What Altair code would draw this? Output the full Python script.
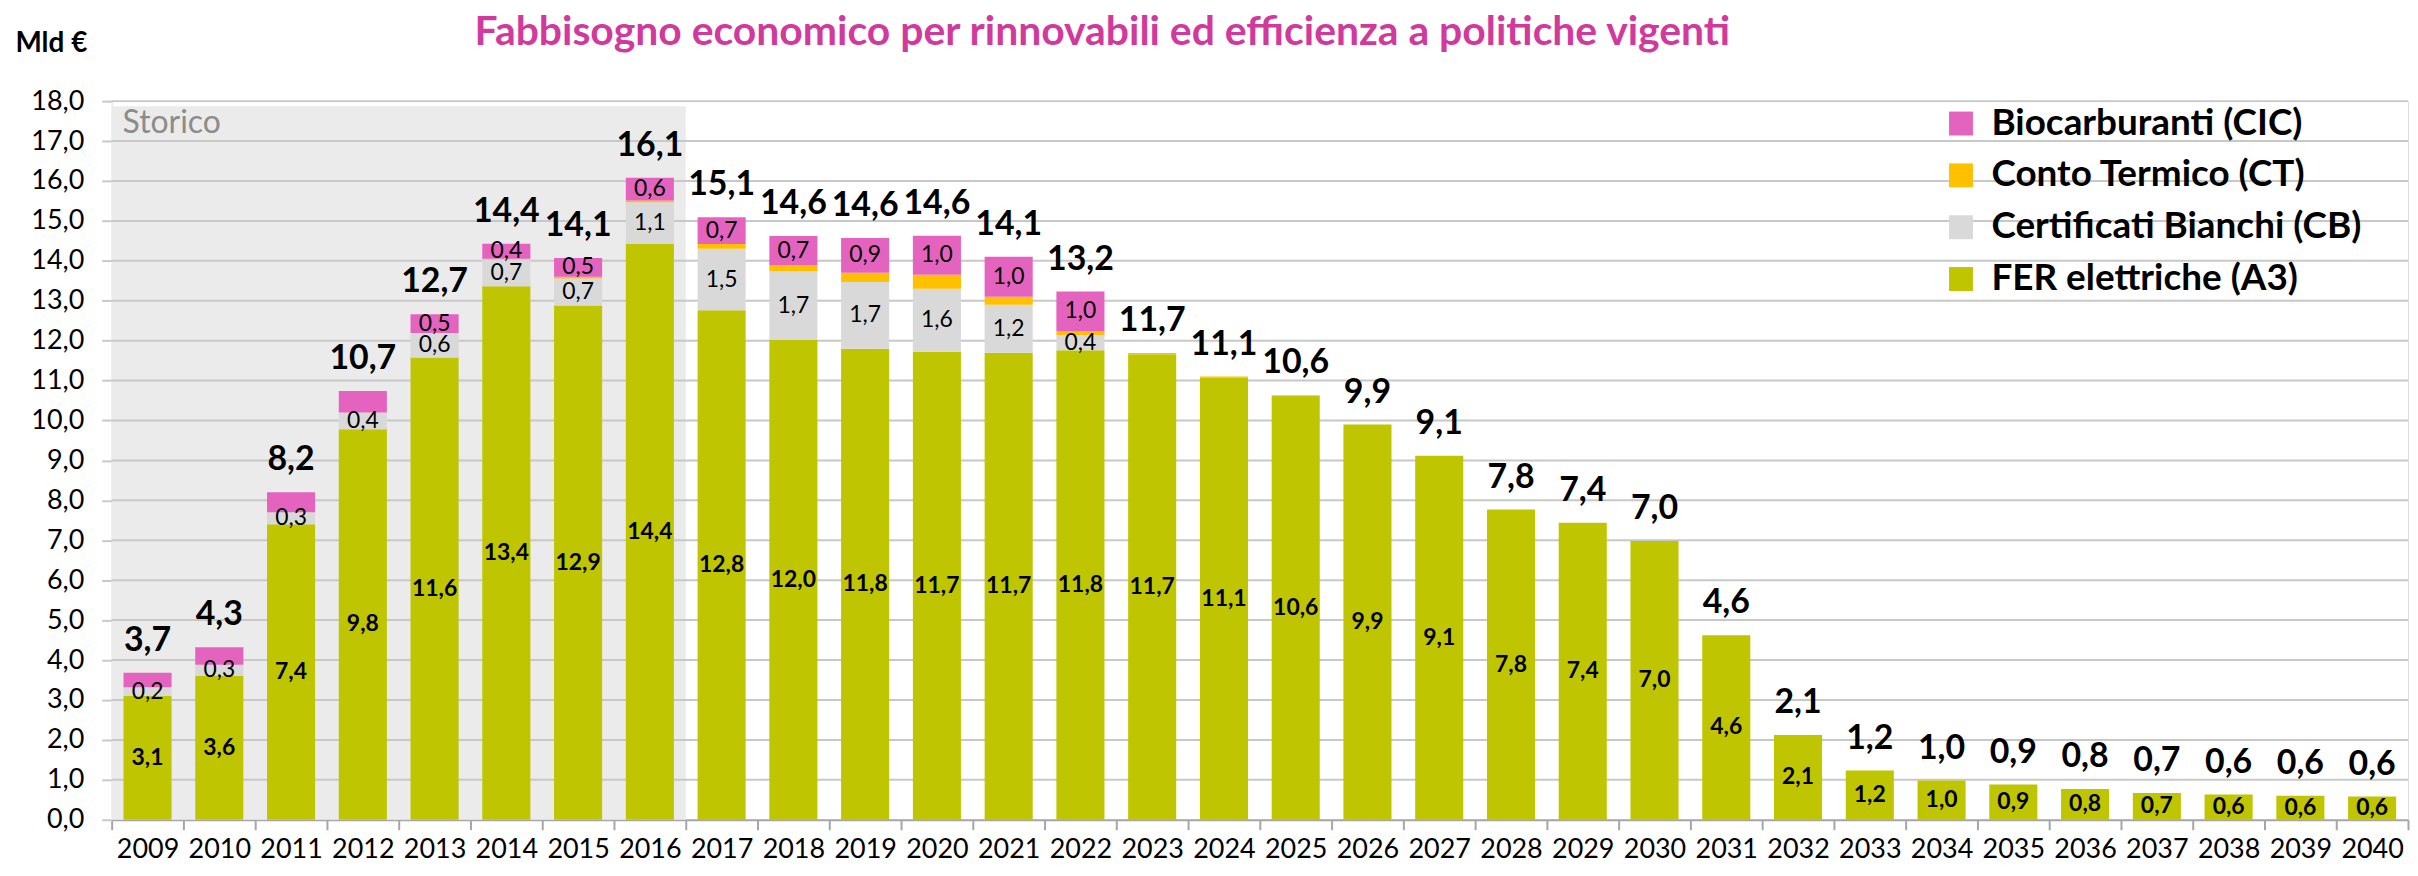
import altair as alt
import pandas as pd

# ---------------- data ----------------
years = list(range(2009, 2041))
fer = [3.1, 3.6, 7.4, 9.78, 11.58, 13.36, 12.88, 14.42, 12.76, 12.02, 11.8, 11.72, 11.7, 11.76,
       11.66, 11.07, 10.62, 9.9, 9.12, 7.77, 7.44, 6.98, 4.62, 2.12, 1.23, 0.98, 0.88, 0.77,
       0.67, 0.63, 0.6, 0.58]
cb = [0.22, 0.28, 0.3, 0.42, 0.61, 0.67, 0.68, 1.05, 1.54, 1.72, 1.67, 1.58, 1.2, 0.38,
      0, 0, 0, 0, 0, 0, 0, 0, 0, 0, 0, 0, 0, 0, 0, 0, 0, 0]
ct = [0, 0, 0, 0, 0, 0.02, 0.04, 0.04, 0.12, 0.14, 0.23, 0.35, 0.2, 0.09,
      0.03, 0.03, 0.01, 0, 0, 0, 0, 0, 0, 0, 0, 0, 0, 0, 0, 0, 0, 0]
cic = [0.36, 0.44, 0.5, 0.54, 0.47, 0.38, 0.47, 0.57, 0.67, 0.74, 0.87, 0.98, 1.0, 1.0,
       0, 0, 0, 0, 0, 0, 0, 0, 0, 0, 0, 0, 0, 0, 0, 0, 0, 0]

series_names = ["FER elettriche (A3)", "Certificati Bianchi (CB)", "Conto Termico (CT)", "Biocarburanti (CIC)"]
series_colors = ["#BFC500", "#D9D9D9", "#FFC000", "#E463BE"]
legend_order = ["Biocarburanti (CIC)", "Conto Termico (CT)", "Certificati Bianchi (CB)", "FER elettriche (A3)"]

cb_label_years = list(range(2009, 2023))
cic_label_years = list(range(2013, 2023))
ct_label_years = []
fer_label_years = years

storico_start, storico_end, storico_top = 2008.5, 2016.5, 17.87
y_ticks = list(range(0, 19))
x_bounds = [2008.5 + i for i in range(33)]

title_text = "Fabbisogno economico per rinnovabili ed efficienza a politiche vigenti"

# ---------------- tables ----------------
label_years = {series_names[0]: fer_label_years, series_names[1]: cb_label_years,
               series_names[2]: ct_label_years, series_names[3]: cic_label_years}
rows = []
for i, yr in enumerate(years):
    base = 0.0
    for k, (name, vals) in enumerate(zip(series_names, [fer, cb, ct, cic])):
        v = vals[i]
        rows.append(dict(year=yr, series=name, value=v, y0=base, y1=base + v, ord=k,
                         show=yr in label_years[name] and v > 0))
        base += v
df = pd.DataFrame(rows)
tot = pd.DataFrame({"year": years, "total": [a + b + c + d for a, b, c, d in zip(fer, cb, ct, cic)]})
storico = pd.DataFrame({"x0": [storico_start], "x1": [storico_end], "y0": [0], "y1": [storico_top]})
grid = pd.DataFrame({"v": y_ticks[1:]})

FONT = "Lato"
fmt = "replace(format(datum.{f}, '.1f'), '.', ',')"

xscale = alt.Scale(domain=[2008.5, 2040.5], nice=False, zero=False)
yscale = alt.Scale(domain=[0, 18], nice=False)

x_axis = alt.Axis(values=x_bounds, title=None, grid=False,
                  labelExpr="datum.value > 2040 ? '' : format(datum.value + 0.5, 'd')",
                  labelOffset=36, labelFlush=False, labelOverlap=False, labelBound=False,
                  labelFontSize=27, labelFont=FONT, labelColor="black", labelPadding=7,
                  tickSize=10, tickColor="#A6A6A6", tickWidth=2,
                  domainColor="#A6A6A6", domainWidth=2)
y_axis = alt.Axis(values=y_ticks, grid=False, domain=False,
                  labelExpr="replace(format(datum.value, '.1f'), '.', ',')",
                  labelFontSize=27, labelFont=FONT, labelColor="black", labelPadding=18,
                  tickSize=10, tickColor="#C8C8C8", tickWidth=2,
                  title="Mld €", titleAngle=0, titleX=-97, titleY=-50, titleAlign="left",
                  titleBaseline="alphabetic", titleFontSize=28, titleFont=FONT,
                  titleFontWeight="bold", titleColor="black")

bg = alt.Chart(storico).mark_rect(color="#EBEBEB").encode(
    x=alt.X("x0:Q", scale=xscale, axis=x_axis), x2="x1:Q",
    y=alt.Y("y0:Q", scale=yscale, axis=y_axis), y2="y1:Q")

storico_txt = alt.Chart(storico).mark_text(
    align="left", baseline="top", dx=11, dy=2, fontSize=32, font=FONT, color="#8C8C8C"
).encode(x="x0:Q", y="y1:Q", text=alt.value("Storico"))

gridlines = alt.Chart(grid).mark_rule(color="#C8C8C8", strokeWidth=2).encode(y="v:Q")

bars = alt.Chart(df).transform_filter("datum.value > 0").transform_calculate(
    xa="datum.year - 0.335", xb="datum.year + 0.335"
).mark_bar().encode(
    x="xa:Q", x2="xb:Q", y="y0:Q", y2="y1:Q",
    color=alt.Color("series:N",
                    scale=alt.Scale(domain=series_names, range=series_colors),
                    sort=legend_order,
                    legend=alt.Legend(orient="none", legendX=1837, legendY=4, title=None,
                                      values=legend_order,
                                      symbolType="square", symbolSize=576, symbolStrokeWidth=0,
                                      labelFontSize=37, labelFont=FONT, labelFontWeight="bold",
                                      labelColor="black", labelLimit=800, labelOffset=12,
                                      rowPadding=14, padding=0)))

seg = alt.Chart(df).transform_filter("datum.show").transform_calculate(
    ymid="(datum.y0 + datum.y1) / 2", lab=fmt.format(f="value"))

fer_txt = seg.transform_filter(alt.datum.ord == 0).mark_text(
    fontSize=23, font=FONT, fontWeight="bold", color="black", baseline="middle"
).encode(x="year:Q", y="ymid:Q", text="lab:N")
oth_txt = seg.transform_filter(alt.datum.ord > 0).mark_text(
    fontSize=23, font=FONT, color="black", baseline="middle"
).encode(x="year:Q", y="ymid:Q", text="lab:N")

tot_txt = alt.Chart(tot).transform_calculate(lab=fmt.format(f="total")).mark_text(
    fontSize=34, font=FONT, fontWeight="bold", color="black", baseline="middle", dy=-32
).encode(x="year:Q", y="total:Q", text="lab:N")

chart = alt.layer(bg, gridlines, storico_txt, bars, fer_txt, oth_txt, tot_txt).properties(
    width=2304, height=721,
    title=alt.TitleParams(title_text, fontSize=41, font=FONT, fontWeight="bold",
                          color="#D13A9C", anchor="middle", dx=-158, offset=-25),
    autosize=alt.AutoSizeParams(type="none"),
    padding={"left": 104, "top": 92, "right": 2, "bottom": 47},
).configure_view(stroke=None).configure(font=FONT)

chart.save("out.html", embed_options={"renderer": "svg", "actions": False})
